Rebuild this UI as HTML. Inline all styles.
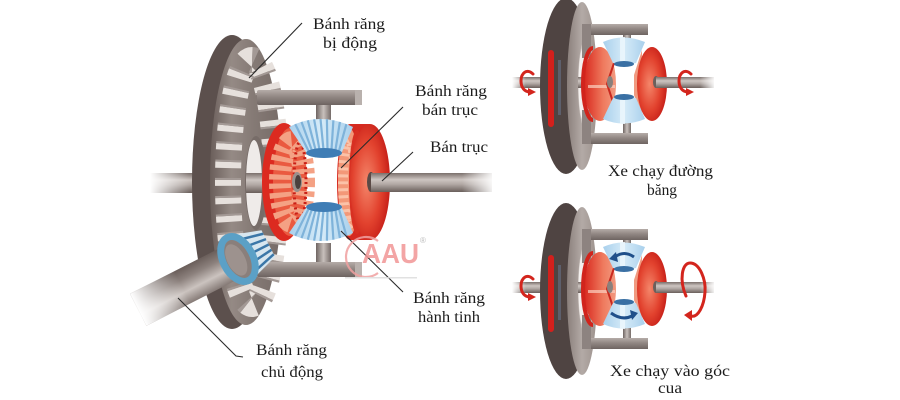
<!DOCTYPE html>
<html><head><meta charset="utf-8">
<style>
html,body{margin:0;padding:0;background:#fff;}
svg{display:block;}
.lbl{font-family:"Liberation Serif",serif;font-size:16px;fill:#1c1c1c;}
</style></head>
<body>
<svg width="900" height="400" viewBox="0 0 900 400" xmlns="http://www.w3.org/2000/svg" xmlns:xlink="http://www.w3.org/1999/xlink">
<defs>
 <linearGradient id="axle" x1="0" y1="0" x2="0" y2="1">
  <stop offset="0" stop-color="#7a6f6b"/>
  <stop offset="0.35" stop-color="#cdc5c1"/>
  <stop offset="0.6" stop-color="#b0a7a3"/>
  <stop offset="1" stop-color="#6a5f5b"/>
 </linearGradient>
 <linearGradient id="fadeL" x1="0" y1="0" x2="1" y2="0">
  <stop offset="0" stop-color="#fff" stop-opacity="1"/>
  <stop offset="1" stop-color="#fff" stop-opacity="0"/>
 </linearGradient>
 <linearGradient id="fadeR" x1="0" y1="0" x2="1" y2="0">
  <stop offset="0" stop-color="#fff" stop-opacity="0"/>
  <stop offset="1" stop-color="#fff" stop-opacity="0.9"/>
 </linearGradient>
 <linearGradient id="ringFace" x1="0" y1="0" x2="1" y2="0">
  <stop offset="0" stop-color="#6a5e5a"/>
  <stop offset="0.3" stop-color="#958a85"/>
  <stop offset="0.6" stop-color="#857a75"/>
  <stop offset="1" stop-color="#766b67"/>
 </linearGradient>
 <linearGradient id="diskFace" x1="0" y1="0" x2="1" y2="0">
  <stop offset="0" stop-color="#8a7f7b"/>
  <stop offset="0.5" stop-color="#b3aaa6"/>
  <stop offset="1" stop-color="#9d928d"/>
 </linearGradient>
 <linearGradient id="bar" x1="0" y1="0" x2="0" y2="1">
  <stop offset="0" stop-color="#b5aca8"/>
  <stop offset="0.4" stop-color="#958b87"/>
  <stop offset="1" stop-color="#6e6461"/>
 </linearGradient>
 <linearGradient id="post" x1="0" y1="0" x2="1" y2="0">
  <stop offset="0" stop-color="#6f6562"/>
  <stop offset="0.5" stop-color="#c8c0bc"/>
  <stop offset="1" stop-color="#756b68"/>
 </linearGradient>
 <radialGradient id="redFace" cx="0.42" cy="0.5" r="0.6">
  <stop offset="0" stop-color="#f4866a"/>
  <stop offset="0.6" stop-color="#e2422e"/>
  <stop offset="1" stop-color="#c41c16"/>
 </radialGradient>
 <linearGradient id="redL" x1="0" y1="0" x2="1" y2="0">
  <stop offset="0" stop-color="#d8281e"/>
  <stop offset="0.6" stop-color="#ef7a5e"/>
  <stop offset="1" stop-color="#f39a80"/>
 </linearGradient>
 <linearGradient id="shaft" x1="0" y1="0" x2="0" y2="1">
  <stop offset="0" stop-color="#6a5e5a"/>
  <stop offset="0.3" stop-color="#8c817d"/>
  <stop offset="0.65" stop-color="#cbc3bf"/>
  <stop offset="1" stop-color="#857a76"/>
 </linearGradient>
 <linearGradient id="blueG" x1="0" y1="0" x2="1" y2="0">
  <stop offset="0" stop-color="#a9d0ec"/>
  <stop offset="0.5" stop-color="#d6ebf8"/>
  <stop offset="1" stop-color="#a9d0ec"/>
 </linearGradient>

 <g id="blueTop">
  <path d="M289 127 Q320 111 353 127 L342 152 Q324 158 306 152 Z" fill="url(#blueG)"/>
  <g stroke="#7fb3da" stroke-width="2.2">
   <line x1="295.2" y1="124.1" x2="309.6" y2="153.1"/>
   <line x1="301.5" y1="121.9" x2="313.2" y2="154"/>
   <line x1="307.8" y1="120.3" x2="316.8" y2="154.5"/>
   <line x1="314.1" y1="119.3" x2="320.4" y2="154.9"/>
   <line x1="320.5" y1="119" x2="324" y2="155"/>
   <line x1="326.9" y1="119.3" x2="327.6" y2="154.9"/>
   <line x1="333.4" y1="120.3" x2="331.2" y2="154.5"/>
   <line x1="339.9" y1="121.9" x2="334.8" y2="154"/>
   <line x1="346.4" y1="124.1" x2="338.4" y2="153.1"/>
  </g>
  <ellipse cx="324" cy="153" rx="18" ry="5" fill="#3f7db5"/>
 </g>

 <g id="miniBlue">
  <path d="M603 42 Q623 33 645 42 L636 63 Q624 66 613 63 Z" fill="url(#blueG)"/>
  <rect x="620" y="37" width="5" height="26" fill="#eef7fc" opacity="0.8"/>
  <ellipse cx="624" cy="64" rx="10" ry="3" fill="#3a70a4"/>
 </g>

 <g id="mini">
  <rect x="512" y="77" width="100" height="11" fill="url(#axle)"/>
  <rect x="512" y="77" width="14" height="11" fill="url(#fadeL)"/>
  <ellipse cx="566" cy="86" rx="26" ry="88" fill="#4f4442"/>
  <ellipse cx="582" cy="86" rx="15" ry="84" fill="url(#diskFace)"/>
  <ellipse cx="586" cy="84" rx="8" ry="46" fill="#cfc7c3"/>
  <ellipse cx="583" cy="84" rx="4.5" ry="36" fill="#f3efed"/>
  <rect x="578" y="77" width="34" height="11" fill="url(#axle)"/>
  <rect x="548" y="50" width="6" height="77" rx="3" fill="#d3201c"/>
  <rect x="558" y="60" width="3" height="55" fill="#6c7a96" opacity="0.5"/>
  <!-- frame -->
  <rect x="582" y="24" width="66" height="11" fill="url(#bar)"/>
  <rect x="582" y="24" width="9" height="34" fill="#8d8380"/>
  <rect x="623" y="35" width="8" height="11" fill="url(#post)"/>
  <rect x="582" y="133" width="66" height="11" fill="url(#bar)"/>
  <rect x="582" y="110" width="9" height="34" fill="#8d8380"/>
  <rect x="623" y="122" width="8" height="11" fill="url(#post)"/>
  <!-- left red gear -->
  <ellipse cx="600" cy="84" rx="16" ry="37" fill="url(#redL)"/>
  <path d="M593 48 A 10 36 0 0 0 593 120" fill="none" stroke="#d1241c" stroke-width="4"/>
  <rect x="588" y="85" width="27" height="3" fill="#fbd0c0" opacity="0.7"/>
  <path d="M615 60 L607 84 L615 108" fill="none" stroke="#c9291f" stroke-width="2"/>
  <ellipse cx="610" cy="82" rx="3" ry="6" fill="#8a807c"/>
  <!-- right red gear -->
  <path d="M642 50 L634 75 L634 95 L642 118 Z" fill="#f09a80"/>
  <ellipse cx="652" cy="84" rx="15" ry="37" fill="url(#redFace)"/>
  <ellipse cx="656" cy="82" rx="3" ry="6" fill="#6b605c"/>
  <rect x="656" y="77" width="58" height="11" fill="url(#axle)"/>
  <rect x="700" y="77" width="14" height="11" fill="url(#fadeR)"/>
  <!-- blue -->
  <use href="#miniBlue" xlink:href="#miniBlue"/>
  <use href="#miniBlue" xlink:href="#miniBlue" transform="translate(0,161) scale(1,-1)"/>
  <!-- left curl -->
  <path d="M533 74 C527 68 521 73 521 81 C521 88 525 92 530 92" fill="none" stroke="#d3251d" stroke-width="3" stroke-linecap="round"/>
  <polygon points="528,88 536,92 528,96" fill="#d3251d"/>
 </g>
</defs>

<!-- ===== MAIN VIEW ===== -->
<rect x="150" y="173" width="150" height="20" fill="url(#axle)"/>
<rect x="150" y="173" width="40" height="20" fill="url(#fadeL)"/>

<!-- ring gear -->
<ellipse cx="232" cy="182" rx="40" ry="147" fill="#5c504d"/>
<ellipse cx="246" cy="182" rx="36" ry="143" fill="url(#ringFace)"/>
<ellipse cx="252" cy="182" rx="24" ry="122" fill="none" stroke="#e6e0dc" stroke-width="26" stroke-dasharray="6 12"/>
<ellipse cx="252" cy="182" rx="24" ry="122" fill="none" stroke="#a39995" stroke-width="26" stroke-dasharray="2 16" stroke-dashoffset="-6"/>
<ellipse cx="256" cy="183" rx="11" ry="47" fill="#776c68"/>
<ellipse cx="254" cy="183" rx="8" ry="43" fill="#efebe9"/>
<rect x="246" y="173" width="18" height="20" fill="url(#axle)"/>

<!-- frame -->
<rect x="257" y="90" width="105" height="15" rx="2" fill="url(#bar)"/>
<rect x="355" y="90" width="7" height="15" fill="#b9b1ad"/>
<rect x="316" y="105" width="15" height="15" fill="url(#post)"/>
<rect x="257" y="262" width="105" height="15" rx="2" fill="url(#bar)"/>
<rect x="355" y="262" width="7" height="15" fill="#b9b1ad"/>
<rect x="316" y="243" width="15" height="19" fill="url(#post)"/>

<!-- left red gear -->
<ellipse cx="284" cy="182" rx="22" ry="59" fill="#dc2a20"/>
<ellipse cx="290" cy="182" rx="17" ry="54" fill="#ea5a40"/>
<ellipse cx="292" cy="182" rx="12" ry="40" fill="none" stroke="#f4a184" stroke-width="22" stroke-dasharray="5 4"/>
<ellipse cx="300" cy="182" rx="6" ry="40" fill="none" stroke="#c81e16" stroke-width="3" stroke-dasharray="2 3"/>
<ellipse cx="297" cy="182" rx="5" ry="10" fill="#9a908c"/>
<ellipse cx="298" cy="182" rx="3" ry="7" fill="#4a403d"/>

<!-- right red gear -->
<path d="M350 124 L370 124 L370 240 L350 240 A 13 58 0 0 1 350 124 Z" fill="#d52a20"/>
<ellipse cx="349" cy="182" rx="11" ry="54" fill="#f39878"/>
<ellipse cx="349" cy="182" rx="6" ry="42" fill="none" stroke="#fbc2a8" stroke-width="10" stroke-dasharray="3 4"/>
<ellipse cx="357" cy="182" rx="8" ry="52" fill="#d83022"/>
<ellipse cx="370" cy="182" rx="20" ry="58" fill="url(#redFace)"/>
<ellipse cx="371" cy="182" rx="4" ry="10" fill="#5a4a46"/>
<rect x="371" y="173" width="121" height="19" fill="url(#axle)"/>
<rect x="462" y="173" width="30" height="19" fill="url(#fadeR)"/>

<!-- blue planet gears -->
<use href="#blueTop" xlink:href="#blueTop"/>
<use href="#blueTop" xlink:href="#blueTop" transform="translate(0,360) scale(1,-1)"/>

<!-- pinion -->
<g transform="translate(238,259) rotate(-27)">
 <rect x="-112" y="-18" width="112" height="36" fill="url(#shaft)"/>
 <rect x="-112" y="-18" width="50" height="36" fill="url(#fadeL)"/>
 <path d="M6 -24 L34 -15 L34 15 L6 24 Z" fill="#d7e6ef"/>
 <g stroke="#3b77a8" stroke-width="2.5">
  <line x1="8" y1="-17" x2="34" y2="-11"/>
  <line x1="8" y1="-8" x2="34" y2="-5"/>
  <line x1="8" y1="1" x2="34" y2="1"/>
  <line x1="8" y1="10" x2="34" y2="7"/>
  <line x1="8" y1="19" x2="34" y2="12"/>
 </g>
 <ellipse cx="0" cy="0" rx="15" ry="24" fill="#8a7f7b" stroke="#5ba0c6" stroke-width="7"/>
 <ellipse cx="-2" cy="0" rx="9" ry="17" fill="#9d928e"/>
</g>

<!-- leader lines -->
<g stroke="#2a2a2a" stroke-width="1.1" fill="none">
 <line x1="302" y1="23" x2="249" y2="78"/>
 <line x1="403" y1="107" x2="341" y2="168"/>
 <line x1="413" y1="152" x2="382" y2="181"/>
 <line x1="403" y1="292" x2="341" y2="231"/>
 <polyline points="178,298 236,356 243,357"/>
</g>

<!-- labels -->
<text class="lbl" x="313" y="29" textLength="72" lengthAdjust="spacingAndGlyphs">Bánh răng</text>
<text class="lbl" x="323" y="48" textLength="54" lengthAdjust="spacingAndGlyphs">bị động</text>
<text class="lbl" x="415" y="96" textLength="72" lengthAdjust="spacingAndGlyphs">Bánh răng</text>
<text class="lbl" x="422" y="115" textLength="56" lengthAdjust="spacingAndGlyphs">bán trục</text>
<text class="lbl" x="430" y="152" textLength="58" lengthAdjust="spacingAndGlyphs">Bán trục</text>
<text class="lbl" x="413" y="303" textLength="72" lengthAdjust="spacingAndGlyphs">Bánh răng</text>
<text class="lbl" x="418" y="322" textLength="62" lengthAdjust="spacingAndGlyphs">hành tinh</text>
<text class="lbl" x="256" y="355" textLength="71" lengthAdjust="spacingAndGlyphs">Bánh răng</text>
<text class="lbl" x="261" y="377" textLength="62" lengthAdjust="spacingAndGlyphs">chủ động</text>

<!-- watermark -->
<g opacity="0.85">
 <path d="M378 241 A 20 20 0 1 0 378 273" fill="none" stroke="#f0a0a0" stroke-width="2.2"/>
 <text x="362" y="263" textLength="57" lengthAdjust="spacingAndGlyphs" style="font-family:'Liberation Sans',sans-serif;font-weight:bold;font-size:28px;fill:#f29696;">AAU</text>
 <text x="420" y="243" style="font-family:'Liberation Sans',sans-serif;font-size:8px;fill:#b0b0b0;">®</text>
 <rect x="345" y="277" width="72" height="1.5" fill="#dcdcdc"/>
</g>

<!-- ===== RIGHT VIEWS ===== -->
<use href="#mini" xlink:href="#mini"/>
<path d="M691 74 C685 68 679 73 679 81 C679 88 683 92 688 92" fill="none" stroke="#d3251d" stroke-width="3" stroke-linecap="round"/>
<polygon points="686,88 694,92 686,96" fill="#d3251d"/>

<use href="#mini" xlink:href="#mini" transform="translate(0,205)"/>
<path d="M686 296 C679 280 682 263 690 263 C700 263 706 280 705 292 C704 306 698 318 691 316" fill="none" stroke="#d3251d" stroke-width="3" stroke-linecap="round"/>
<polygon points="684,315 692,310 692,321" fill="#d3251d"/>
<path d="M634 257 Q624 250 615 257" fill="none" stroke="#1f4f8a" stroke-width="3"/>
<polygon points="609,259 616,252 618,262" fill="#1f4f8a"/>
<path d="M611 313 Q622 321 632 316" fill="none" stroke="#1f4f8a" stroke-width="3"/>
<polygon points="638,313 630,310 632,320" fill="#1f4f8a"/>

<text class="lbl" x="608" y="176" textLength="105" lengthAdjust="spacingAndGlyphs">Xe chạy đường</text>
<text class="lbl" x="647" y="195" textLength="30" lengthAdjust="spacingAndGlyphs">băng</text>
<text class="lbl" x="610" y="376" textLength="120" lengthAdjust="spacingAndGlyphs">Xe chạy vào góc</text>
<text class="lbl" x="658" y="393" textLength="24" lengthAdjust="spacingAndGlyphs">cua</text>
</svg>
</body></html>
